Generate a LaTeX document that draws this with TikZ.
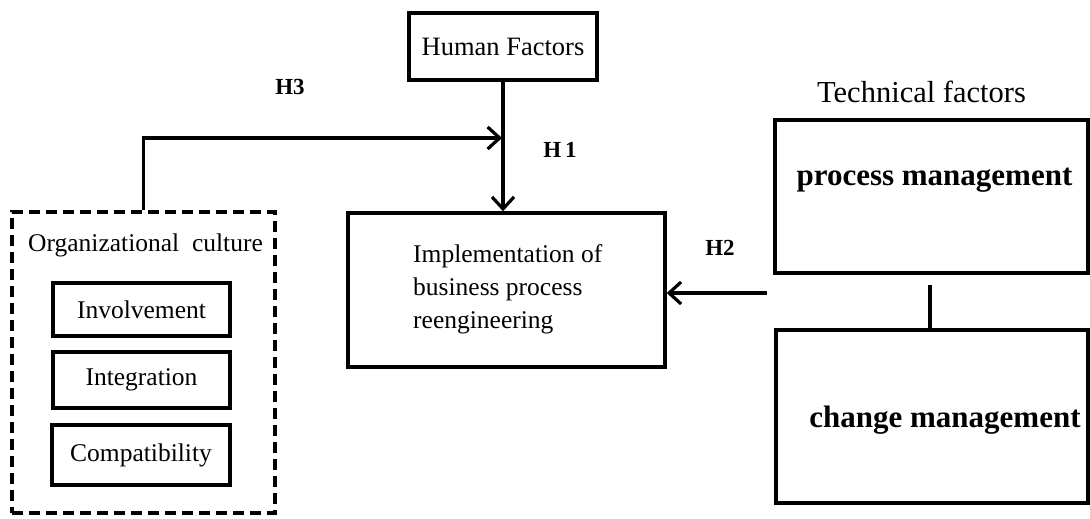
\documentclass[tikz,border=0pt]{standalone}
\usepackage{fontspec}
\setmainfont{Liberation Serif}
\usetikzlibrary{arrows.meta,calc}
\begin{document}
\begin{tikzpicture}[x=1pt,y=-1pt,
  box/.style={draw=black, line width=3.4pt, rectangle, inner sep=0pt},
  dbox/.style={draw=black, line width=3.6pt, dash pattern=on 11pt off 6pt, rectangle, inner sep=0pt},
  conn/.style={draw=black, line width=3.4pt},
  arr/.style={conn, -{Straight Barb[length=12pt,width=22pt,line width=3.2pt]}},
  txt/.style={inner sep=0pt, font=\fontsize{25.5}{33}\selectfont},
  hlab/.style={inner sep=0pt, font=\bfseries\fontsize{23}{26}\selectfont},
  mlab/.style={inner sep=0pt, font=\bfseries\fontsize{31}{36}\selectfont}
]
\useasboundingbox (0,0) rectangle (1090,519);
\fill[white] (0,0) rectangle (1090,519);

% Human factors
\node[box, minimum width=188pt, minimum height=67pt, font=\fontsize{26.5}{30}\selectfont] (hf) at (503,46.5) {Human Factors};

% Implementation box
\node[box, minimum width=317pt, minimum height=154pt] (impl) at (506.5,290) {};
\node[txt, anchor=west, align=left] (implt) at (413,289) {Implementation of\\business process\\reengineering};

% Organizational culture
\node[dbox, minimum width=263pt, minimum height=301pt] (org) at (143.5,362.5) {};
\node[txt] (orgt) at (145.5,245) {Organizational\hspace{0.5em}culture};
\node[box, txt, minimum width=177pt, minimum height=53pt] (inv) at (141.5,309.5) {Involvement};
\node[box, txt, minimum width=177pt, minimum height=56pt] (integ) at (141.5,380) {Integration};
\node[box, txt, minimum width=178pt, minimum height=60pt] (compat) at (141,455) {Compatibility};

% Technical factors
\node[inner sep=0pt, font=\fontsize{30.5}{34}\selectfont] (tech) at (921.5,92) {Technical factors};
\node[box, minimum width=313pt, minimum height=153pt] (pm) at (931.5,196.5) {};
\node[mlab] (pmt) at (934.5,180) {process management};
\node[box, minimum width=312pt, minimum height=173pt] (cm) at (932,416.5) {};
\node[mlab] (cmt) at (945,420) {change management};

% connectors
\coordinate (c1) at (930,285);
\draw[conn] (c1) -- (c1 |- cm.north);

\coordinate (h2s) at (767,293);
\draw[arr] (h2s) -- (impl.east |- h2s);

\draw[arr] (hf.south) -- (hf.south |- impl.north);

\coordinate (j) at (502,138);
\draw[arr] (org.north) |- (j);

% labels
\node[hlab] (h3) at (290,87) {H3};
\node[hlab] (h1) at (560,150) {H\,1};
\node[hlab] (h2) at (720,248) {H2};
\end{tikzpicture}
\end{document}
